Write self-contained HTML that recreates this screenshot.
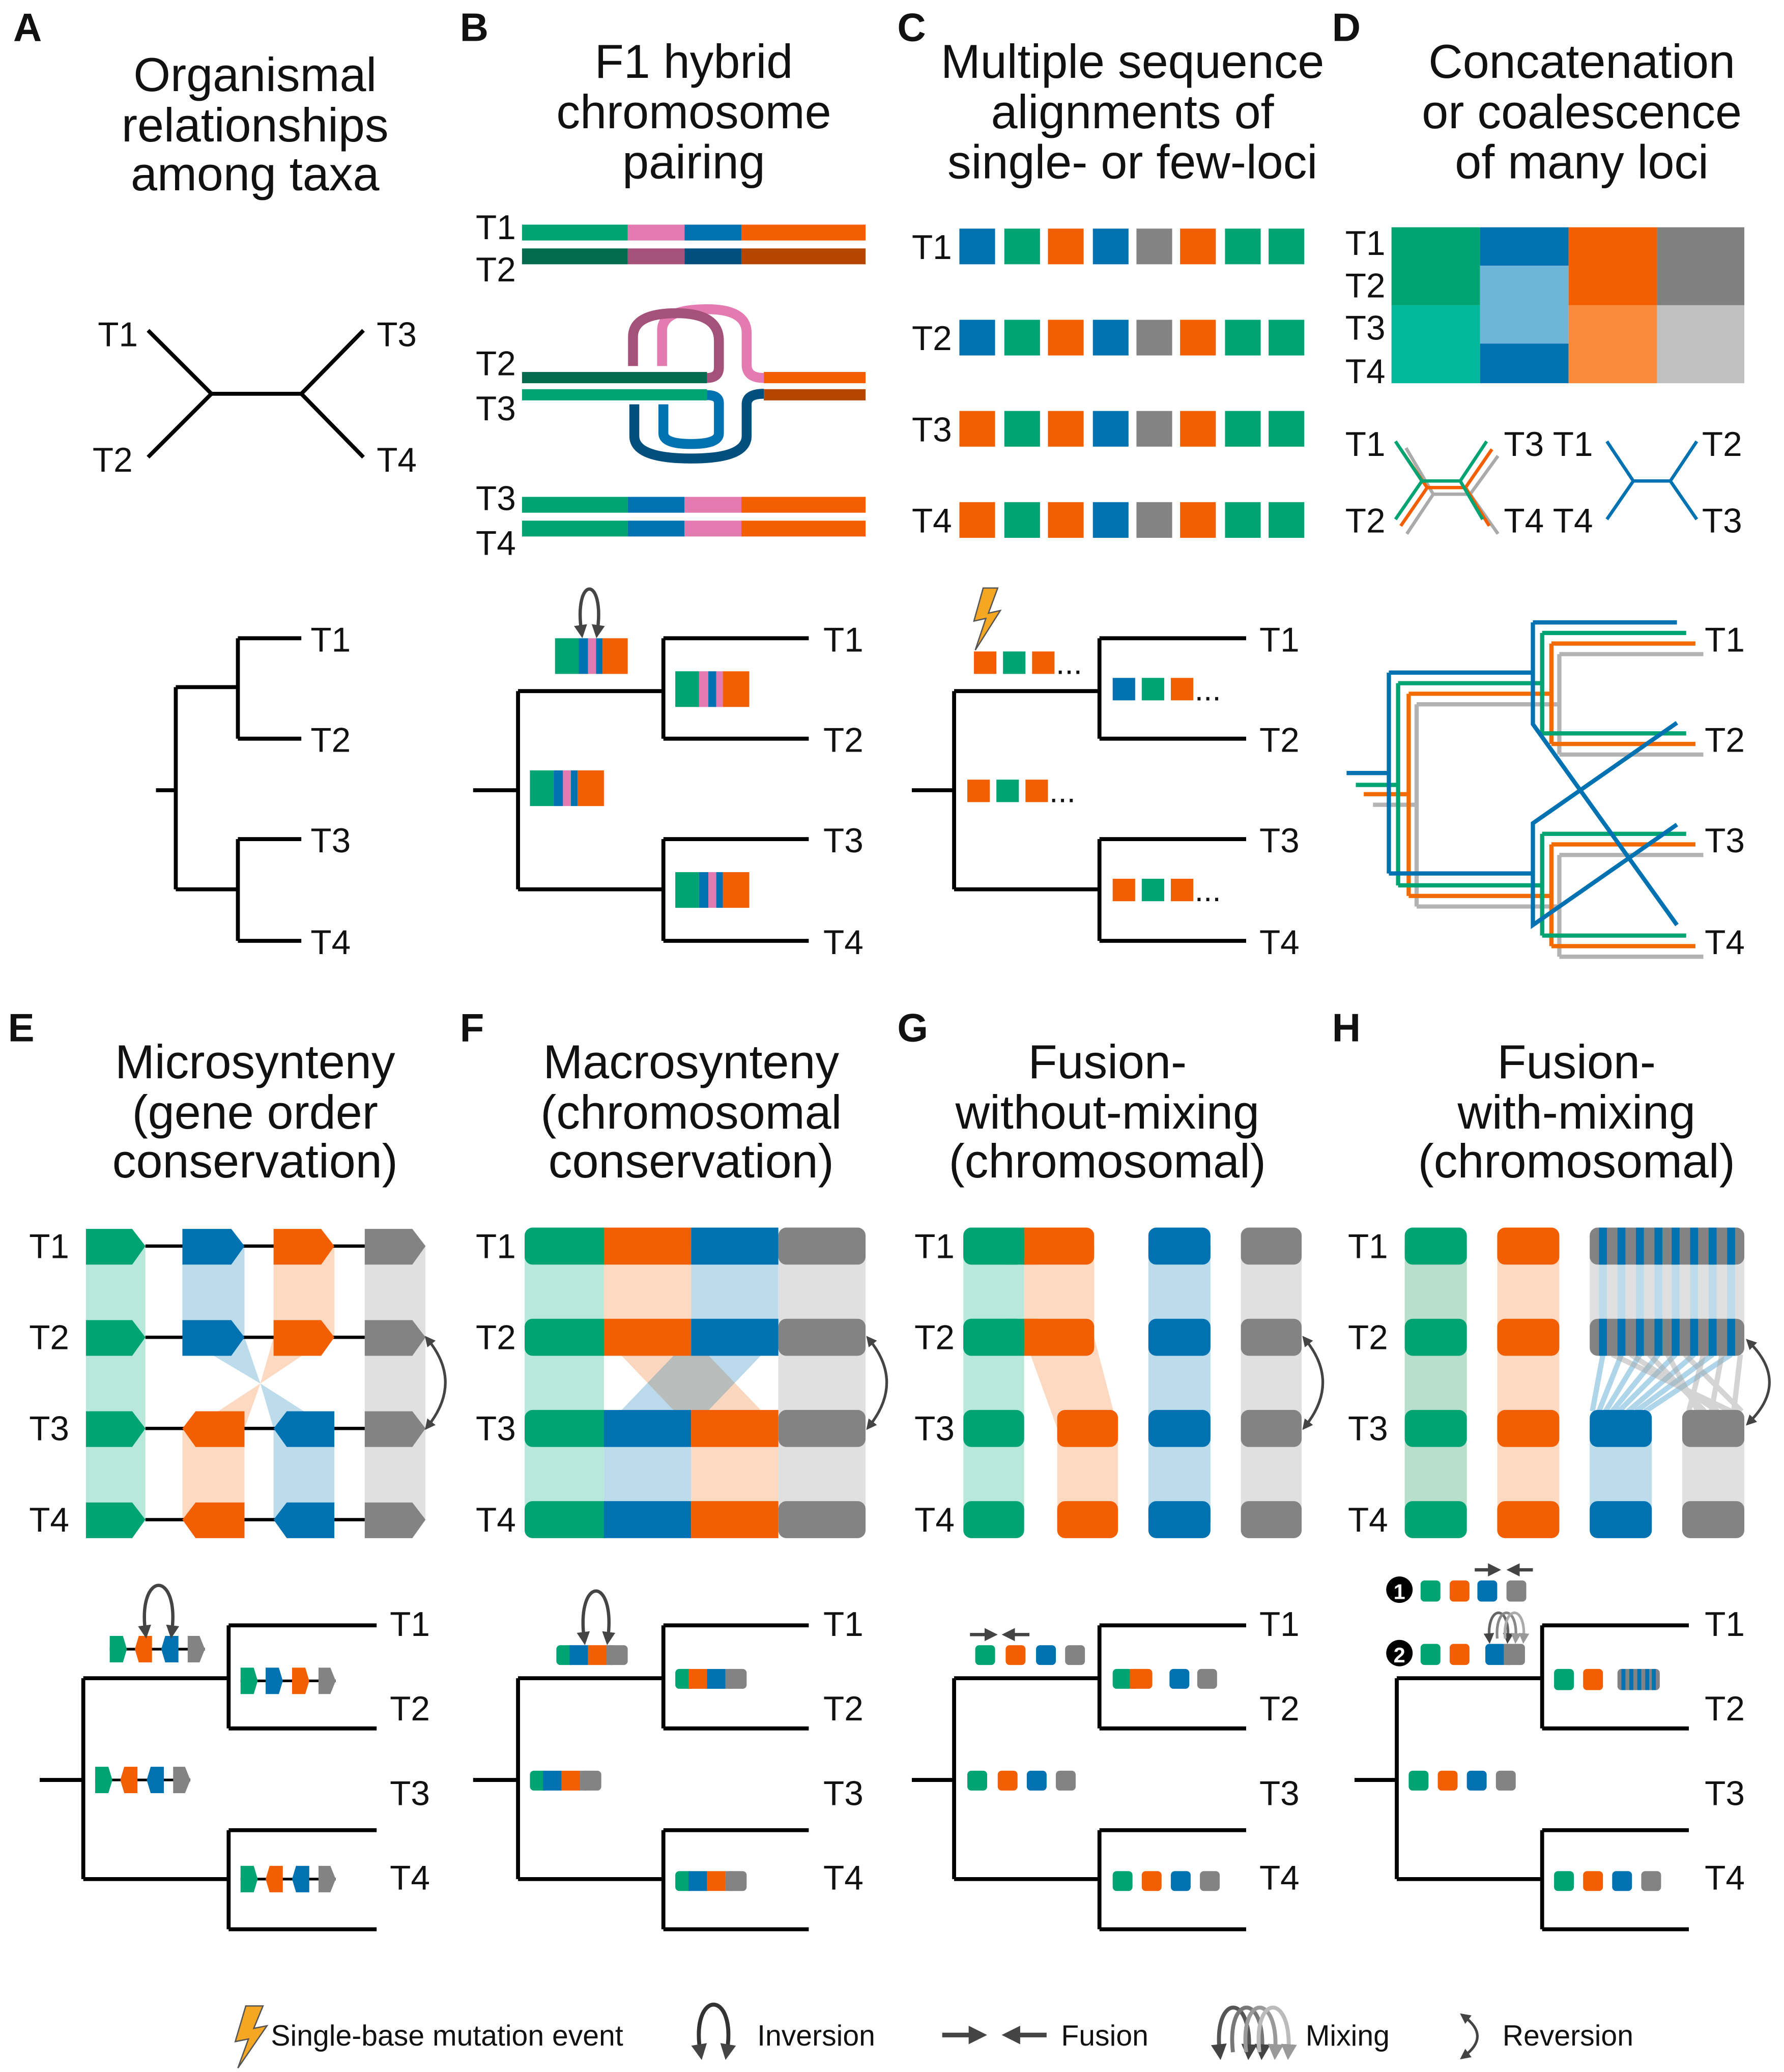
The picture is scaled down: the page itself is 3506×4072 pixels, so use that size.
<!DOCTYPE html>
<html><head><meta charset="utf-8"><style>html,body{margin:0;padding:0;background:#fff}svg{display:block}text{font-family:"Liberation Sans",Arial,sans-serif;fill:#111}</style></head><body>
<svg xmlns="http://www.w3.org/2000/svg" width="3506" height="4072" viewBox="0 0 1350 1568">
<defs>
<marker id="ah" viewBox="0 0 10 10" refX="5" refY="5" markerWidth="4" markerHeight="4" orient="auto-start-reverse"><path d="M0,0 L10,5 L0,10 z" fill="#444"/></marker>
<marker id="ahg" viewBox="0 0 10 10" refX="5" refY="5" markerWidth="4" markerHeight="4" orient="auto-start-reverse"><path d="M0,0 L10,5 L0,10 z" fill="#999"/></marker>
</defs>
<rect width="1350" height="1568" fill="#fff"/>
<!-- D heatmap -->
<rect x="1053" y="172" width="67" height="59" fill="#00a372"/><rect x="1053" y="231" width="67" height="59" fill="#00b89a"/>
<rect x="1120" y="172" width="67" height="29" fill="#0072b2"/><rect x="1120" y="201" width="67" height="59" fill="#6db6d9"/><rect x="1120" y="260" width="67" height="30" fill="#0072b2"/>
<rect x="1187" y="172" width="67" height="59" fill="#f35f00"/><rect x="1187" y="231" width="67" height="59" fill="#f88a3c"/>
<rect x="1254" y="172" width="66" height="59" fill="#808080"/><rect x="1254" y="231" width="66" height="59" fill="#c0c0c0"/>
<g font-weight="bold" font-size="30">
<text x="10" y="31">A</text><text x="348" y="31">B</text><text x="679" y="31">C</text><text x="1008" y="31">D</text>
<text x="6" y="788">E</text><text x="348" y="788">F</text><text x="679" y="788">G</text><text x="1008" y="788">H</text>
</g>
<g font-size="36" text-anchor="middle">
<text x="193" y="69">Organismal</text><text x="193" y="107">relationships</text><text x="193" y="144">among taxa</text>
<text x="525" y="59">F1 hybrid</text><text x="525" y="97">chromosome</text><text x="525" y="135">pairing</text>
<text x="857" y="59">Multiple sequence</text><text x="857" y="97">alignments of</text><text x="857" y="135">single- or few-loci</text>
<text x="1197" y="59">Concatenation</text><text x="1197" y="97">or coalescence</text><text x="1197" y="135">of many loci</text>
<text x="193" y="816">Microsynteny</text><text x="193" y="854">(gene order</text><text x="193" y="891">conservation)</text>
<text x="523" y="816">Macrosynteny</text><text x="523" y="854">(chromosomal</text><text x="523" y="891">conservation)</text>
<text x="838" y="816">Fusion-</text><text x="838" y="854">without-mixing</text><text x="838" y="891">(chromosomal)</text>
<text x="1193" y="816">Fusion-</text><text x="1193" y="854">with-mixing</text><text x="1193" y="891">(chromosomal)</text>
</g>
<g font-size="26">
<text x="74" y="262">T1</text><text x="70" y="357">T2</text><text x="285" y="262">T3</text><text x="285" y="357">T4</text>
<text x="235" y="493">T1</text><text x="235" y="569">T2</text><text x="235" y="645">T3</text><text x="235" y="722">T4</text>
<text x="623" y="493">T1</text><text x="623" y="569">T2</text><text x="623" y="645">T3</text><text x="623" y="722">T4</text>
<text x="953" y="493">T1</text><text x="953" y="569">T2</text><text x="953" y="645">T3</text><text x="953" y="722">T4</text>
<text x="1290" y="493">T1</text><text x="1290" y="569">T2</text><text x="1290" y="645">T3</text><text x="1290" y="722">T4</text>
<text x="360" y="181">T1</text><text x="360" y="213">T2</text><text x="360" y="284">T2</text><text x="360" y="318">T3</text><text x="360" y="386">T3</text><text x="360" y="420">T4</text>
<text x="690" y="196">T1</text><text x="690" y="265">T2</text><text x="690" y="334">T3</text><text x="690" y="403">T4</text>
<text x="1018" y="193">T1</text><text x="1018" y="225">T2</text><text x="1018" y="257">T3</text><text x="1018" y="290">T4</text>
<text x="1018" y="345">T1</text><text x="1138" y="345">T3 T1</text><text x="1288" y="345">T2</text>
<text x="1018" y="403">T2</text><text x="1138" y="403">T4 T4</text><text x="1288" y="403">T3</text>
<text x="22" y="952">T1</text><text x="22" y="1021">T2</text><text x="22" y="1090">T3</text><text x="22" y="1159">T4</text>
<text x="360" y="952">T1</text><text x="360" y="1021">T2</text><text x="360" y="1090">T3</text><text x="360" y="1159">T4</text>
<text x="692" y="952">T1</text><text x="692" y="1021">T2</text><text x="692" y="1090">T3</text><text x="692" y="1159">T4</text>
<text x="1020" y="952">T1</text><text x="1020" y="1021">T2</text><text x="1020" y="1090">T3</text><text x="1020" y="1159">T4</text>
<text x="295" y="1238">T1</text><text x="295" y="1302">T2</text><text x="295" y="1366">T3</text><text x="295" y="1430">T4</text>
<text x="623" y="1238">T1</text><text x="623" y="1302">T2</text><text x="623" y="1366">T3</text><text x="623" y="1430">T4</text>
<text x="953" y="1238">T1</text><text x="953" y="1302">T2</text><text x="953" y="1366">T3</text><text x="953" y="1430">T4</text>
<text x="1290" y="1238">T1</text><text x="1290" y="1302">T2</text><text x="1290" y="1366">T3</text><text x="1290" y="1430">T4</text>
</g>
<g stroke="#000" stroke-width="3" fill="none">
<path d="M160,298H228M160,298L112,250M160,298L112,346M228,298L275,250M228,298L275,346"/>
<path d="M118,598H133M133,520V673M133,520H180M133,673H180M180,483V559M180,483H228M180,559H228M180,635V712M180,635H228M180,712H228"/>
<path d="M358,598H392M392,523V673M392,523H502M392,673H502M502,483V559M502,483H612M502,559H612M502,635V712M502,635H612M502,712H612"/>
<path d="M690,598H722M722,523V673M722,523H832M722,673H832M832,483V559M832,483H943M832,559H943M832,635V712M832,635H943M832,712H943"/>
<path d="M30,1347H63M63,1270V1422M63,1270H173M63,1422H173M173,1230V1308M173,1230H285M173,1308H285M173,1385V1460M173,1385H285M173,1460H285"/>
<path d="M358,1347H392M392,1270V1422M392,1270H502M392,1422H502M502,1230V1308M502,1230H612M502,1308H612M502,1385V1460M502,1385H612M502,1460H612"/>
<path d="M690,1347H722M722,1270V1422M722,1270H832M722,1422H832M832,1230V1308M832,1230H943M832,1308H943M832,1385V1460M832,1385H943M832,1460H943"/>
<path d="M1025,1347H1057M1057,1270V1422M1057,1270H1167M1057,1422H1167M1167,1230V1308M1167,1230H1278M1167,1308H1278M1167,1385V1460M1167,1385H1278M1167,1460H1278"/>
</g>
<!-- B chromosomes -->
<rect x="395" y="170" width="80" height="12" fill="#00a372"/><rect x="475" y="170" width="43" height="12" fill="#e47bb0"/><rect x="518" y="170" width="43" height="12" fill="#0072b2"/><rect x="561" y="170" width="94" height="12" fill="#f35f00"/>
<rect x="395" y="188" width="80" height="12" fill="#006b4f"/><rect x="475" y="188" width="43" height="12" fill="#a4527a"/><rect x="518" y="188" width="43" height="12" fill="#004f7c"/><rect x="561" y="188" width="94" height="12" fill="#b44600"/>
<rect x="395" y="376" width="80" height="12" fill="#00a372"/><rect x="475" y="376" width="43" height="12" fill="#0072b2"/><rect x="518" y="376" width="43" height="12" fill="#e47bb0"/><rect x="561" y="376" width="94" height="12" fill="#f35f00"/>
<rect x="395" y="394" width="80" height="12" fill="#00a372"/><rect x="475" y="394" width="43" height="12" fill="#0072b2"/><rect x="518" y="394" width="43" height="12" fill="#e47bb0"/><rect x="561" y="394" width="94" height="12" fill="#f35f00"/>
<g fill="none" stroke-width="7.5">
<path d="M501,277V250Q501,234 535,234Q565,234 565,252V276Q565,286 578,286" stroke="#e47bb0"/>
<path d="M479,277V255Q479,237 512,237Q544,237 544,258V278Q544,286 535,286" stroke="#a4527a"/>
<path d="M480,306V330Q480,347 523,347Q565,347 565,330V306Q565,298 578,298" stroke="#004f7c"/>
<path d="M502,306V328Q502,336 523,336Q544,336 544,328V305Q544,299 535,299" stroke="#0072b2"/>
</g>
<rect x="395" y="281.5" width="140" height="8.5" fill="#006b4f"/><rect x="395" y="294.5" width="140" height="8.5" fill="#00a372"/>
<rect x="578" y="281.5" width="77" height="8.5" fill="#f35f00"/><rect x="578" y="294.5" width="77" height="8.5" fill="#b44600"/>
<!-- B tree blocks -->
<g>
<rect x="420" y="483" width="18" height="27" fill="#00a372"/><rect x="438" y="483" width="7" height="27" fill="#0072b2"/><rect x="445" y="483" width="6" height="27" fill="#e47bb0"/><rect x="451" y="483" width="5" height="27" fill="#0072b2"/><rect x="456" y="483" width="19" height="27" fill="#f35f00"/>
<rect x="511" y="508" width="18" height="27" fill="#00a372"/><rect x="529" y="508" width="7" height="27" fill="#e47bb0"/><rect x="536" y="508" width="6" height="27" fill="#0072b2"/><rect x="542" y="508" width="5" height="27" fill="#e47bb0"/><rect x="547" y="508" width="20" height="27" fill="#f35f00"/>
<rect x="401" y="583" width="18" height="27" fill="#00a372"/><rect x="419" y="583" width="7" height="27" fill="#0072b2"/><rect x="426" y="583" width="6" height="27" fill="#e47bb0"/><rect x="432" y="583" width="5" height="27" fill="#0072b2"/><rect x="437" y="583" width="20" height="27" fill="#f35f00"/>
<rect x="511" y="660" width="18" height="27" fill="#00a372"/><rect x="529" y="660" width="7" height="27" fill="#0072b2"/><rect x="536" y="660" width="6" height="27" fill="#e47bb0"/><rect x="542" y="660" width="5" height="27" fill="#0072b2"/><rect x="547" y="660" width="20" height="27" fill="#f35f00"/>
<path d="M440,478C434,435 458,435 452,478" fill="none" stroke="#444" stroke-width="2.5" marker-start="url(#ah)" marker-end="url(#ah)"/>
</g>
<!-- C squares -->
<g>
<g transform="translate(0,173)"><rect x="726" width="27" height="27" fill="#0072b2"/><rect x="760" width="27" height="27" fill="#00a372"/><rect x="793" width="27" height="27" fill="#f35f00"/><rect x="827" width="27" height="27" fill="#0072b2"/><rect x="860" width="27" height="27" fill="#838383"/><rect x="893" width="27" height="27" fill="#f35f00"/><rect x="927" width="27" height="27" fill="#00a372"/><rect x="960" width="27" height="27" fill="#00a372"/></g>
<g transform="translate(0,242)"><rect x="726" width="27" height="27" fill="#0072b2"/><rect x="760" width="27" height="27" fill="#00a372"/><rect x="793" width="27" height="27" fill="#f35f00"/><rect x="827" width="27" height="27" fill="#0072b2"/><rect x="860" width="27" height="27" fill="#838383"/><rect x="893" width="27" height="27" fill="#f35f00"/><rect x="927" width="27" height="27" fill="#00a372"/><rect x="960" width="27" height="27" fill="#00a372"/></g>
<g transform="translate(0,311)"><rect x="726" width="27" height="27" fill="#f35f00"/><rect x="760" width="27" height="27" fill="#00a372"/><rect x="793" width="27" height="27" fill="#f35f00"/><rect x="827" width="27" height="27" fill="#0072b2"/><rect x="860" width="27" height="27" fill="#838383"/><rect x="893" width="27" height="27" fill="#f35f00"/><rect x="927" width="27" height="27" fill="#00a372"/><rect x="960" width="27" height="27" fill="#00a372"/></g>
<g transform="translate(0,380)"><rect x="726" width="27" height="27" fill="#f35f00"/><rect x="760" width="27" height="27" fill="#00a372"/><rect x="793" width="27" height="27" fill="#f35f00"/><rect x="827" width="27" height="27" fill="#0072b2"/><rect x="860" width="27" height="27" fill="#838383"/><rect x="893" width="27" height="27" fill="#f35f00"/><rect x="927" width="27" height="27" fill="#00a372"/><rect x="960" width="27" height="27" fill="#00a372"/></g>
</g>
<g font-size="24">
<path d="M744,445L737,470L746,468L738,492L757,462L748,464L755,445Z" fill="#f5a623" stroke="#555" stroke-width="1"/>
<rect x="737" y="493" width="17" height="17" fill="#f35f00"/><rect x="759" y="493" width="17" height="17" fill="#00a372"/><rect x="781" y="493" width="17" height="17" fill="#f35f00"/><text x="799" y="510">...</text>
<rect x="842" y="513" width="17" height="17" fill="#0072b2"/><rect x="864" y="513" width="17" height="17" fill="#00a372"/><rect x="886" y="513" width="17" height="17" fill="#f35f00"/><text x="904" y="530">...</text>
<rect x="732" y="590" width="17" height="17" fill="#f35f00"/><rect x="754" y="590" width="17" height="17" fill="#00a372"/><rect x="776" y="590" width="17" height="17" fill="#f35f00"/><text x="794" y="607">...</text>
<rect x="842" y="665" width="17" height="17" fill="#f35f00"/><rect x="864" y="665" width="17" height="17" fill="#00a372"/><rect x="886" y="665" width="17" height="17" fill="#f35f00"/><text x="904" y="682">...</text>
</g>
<!-- D small trees -->
<g fill="none" stroke-width="2.5">
<path d="M1064,339L1084.6,374H1112.5L1133.6,345M1084.6,374L1064.6,404M1112.5,374L1133.6,404" stroke="#aaa"/>
<path d="M1060,340L1080,369H1109L1129,340M1080,369L1060,398M1109,369L1127,398" stroke="#f35f00"/>
<path d="M1056,334L1076,364H1105L1125,334M1076,364L1056,393M1105,364L1122,393" stroke="#00a372"/>
<path d="M1216,334L1236,364H1264L1284,334M1236,364L1216,393M1264,364L1284,393" stroke="#0072b2"/>
</g>
<!-- D big tree -->
<g fill="none" stroke-width="3.2">
<path d="M1039,609H1072M1072,533V686M1072,533H1180M1072,686H1180M1180,495V571M1180,495H1289M1180,571H1289M1180,647V724M1180,647H1289M1180,724H1289" stroke="#b3b3b3"/>
<path d="M1032,601H1066M1066,525V678M1066,525H1174M1066,678H1174M1174,487V563M1174,487H1283M1174,563H1283M1174,639V716M1174,639H1283M1174,716H1283" stroke="#f36a00"/>
<path d="M1026,594H1058M1058,517V670M1058,517H1167M1058,670H1167M1167,479V555M1167,479H1276M1167,555H1276M1167,631V708M1167,631H1276M1167,708H1276" stroke="#00a372"/>
<path d="M1019,585H1051M1051,509V661M1051,509H1160M1051,661H1160M1160,471V548L1269,700M1160,471H1269M1269,547L1160,623V700L1269,624" stroke="#0072b2"/>
</g>
<!-- E -->
<g>
<rect x="65" y="943" width="45" height="207" fill="#b8e8da"/>
<rect x="138" y="943" width="47" height="69" fill="#bcdcec"/><rect x="207" y="943" width="46" height="69" fill="#fdd9c1"/>
<polygon points="160,1025 185,1012 197,1047" fill="#bcdcec"/><polygon points="197,1047 207,1081 230,1068" fill="#bcdcec"/>
<polygon points="207,1012 230,1025 197,1047" fill="#fdd9c1"/><polygon points="197,1047 165,1068 185,1081" fill="#fdd9c1"/>
<rect x="138" y="1081" width="47" height="69" fill="#fdd9c1"/><rect x="207" y="1081" width="46" height="69" fill="#bcdcec"/>
<rect x="276" y="943" width="46" height="207" fill="#e0e0e0"/>
<g stroke="#000" stroke-width="2.5"><path d="M110,943H276M110,1012H276M110,1081H276M110,1150H276"/></g>
<g id="erowR">
<polygon points="65,930 100,930 110,943 100,957 65,957" fill="#00a372"/>
<polygon points="276,930 312,930 322,943 312,957 276,957" fill="#838383"/>
</g>
<use href="#erowR" y="69"/><use href="#erowR" y="138"/><use href="#erowR" y="207"/>
<polygon points="138,930 175,930 185,943 175,957 138,957" fill="#0072b2"/><polygon points="207,930 243,930 253,943 243,957 207,957" fill="#f35f00"/>
<polygon points="138,999 175,999 185,1012 175,1026 138,1026" fill="#0072b2"/><polygon points="207,999 243,999 253,1012 243,1026 207,1026" fill="#f35f00"/>
<polygon points="138,1081 148,1068 185,1068 185,1095 148,1095" fill="#f35f00"/><polygon points="207,1081 217,1068 253,1068 253,1095 217,1095" fill="#0072b2"/>
<polygon points="138,1150 148,1137 185,1137 185,1164 148,1164" fill="#f35f00"/><polygon points="207,1150 217,1137 253,1137 253,1164 217,1164" fill="#0072b2"/>
<path d="M324,1014Q350,1046 324,1079" fill="none" stroke="#444" stroke-width="2" marker-start="url(#ah)" marker-end="url(#ah)"/>
</g>
<!-- F -->
<g>
<rect x="397" y="943" width="60" height="207" fill="#b8e8da"/>
<rect x="457" y="943" width="66" height="69" fill="#fdd9c1"/><rect x="523" y="943" width="66" height="69" fill="#bcdcec"/>
<polygon points="457,1012 523,1012 589,1081 523,1081" fill="#f35f00" opacity="0.25"/>
<polygon points="523,1012 589,1012 523,1081 457,1081" fill="#0072b2" opacity="0.27"/>
<rect x="457" y="1081" width="66" height="69" fill="#bcdcec"/><rect x="523" y="1081" width="66" height="69" fill="#fdd9c1"/>
<rect x="589" y="943" width="66" height="207" fill="#e0e0e0"/>
<g id="frow"><rect x="397" y="929" width="66" height="28" rx="6" fill="#00a372"/><rect x="589" y="929" width="66" height="28" rx="6" fill="#838383"/></g>
<use href="#frow" y="69"/><use href="#frow" y="138"/><use href="#frow" y="207"/>
<rect x="457" y="929" width="66" height="28" fill="#f35f00"/><rect x="523" y="929" width="66" height="28" fill="#0072b2"/>
<rect x="457" y="998" width="66" height="28" fill="#f35f00"/><rect x="523" y="998" width="66" height="28" fill="#0072b2"/>
<rect x="457" y="1067" width="66" height="28" fill="#0072b2"/><rect x="523" y="1067" width="66" height="28" fill="#f35f00"/>
<rect x="457" y="1136" width="66" height="28" fill="#0072b2"/><rect x="523" y="1136" width="66" height="28" fill="#f35f00"/>
<path d="M658,1014Q684,1046 658,1079" fill="none" stroke="#444" stroke-width="2" marker-start="url(#ah)" marker-end="url(#ah)"/>
</g>
<!-- G -->
<g>
<rect x="729" y="943" width="46" height="207" fill="#b8e8da"/>
<rect x="775" y="943" width="53" height="69" fill="#fdd9c1"/><polygon points="775,1012 828,1012 846,1081 800,1081" fill="#fdd9c1"/><rect x="800" y="1081" width="46" height="69" fill="#fdd9c1"/>
<rect x="869" y="943" width="47" height="207" fill="#bcdcec"/><rect x="939" y="943" width="46" height="207" fill="#e0e0e0"/>
<g id="grow"><rect x="729" y="929" width="46" height="28" rx="6" fill="#00a372"/><rect x="869" y="929" width="47" height="28" rx="6" fill="#0072b2"/><rect x="939" y="929" width="46" height="28" rx="6" fill="#838383"/></g>
<use href="#grow" y="69"/><use href="#grow" y="138"/><use href="#grow" y="207"/>
<rect x="769" y="929" width="59" height="28" rx="6" fill="#f35f00"/><rect x="775" y="929" width="10" height="28" fill="#f35f00"/>
<rect x="769" y="998" width="59" height="28" rx="6" fill="#f35f00"/><rect x="775" y="998" width="10" height="28" fill="#f35f00"/>
<rect x="729" y="929" width="46" height="28" rx="6" fill="#00a372"/><rect x="760" y="929" width="15" height="28" fill="#00a372"/>
<rect x="729" y="998" width="46" height="28" rx="6" fill="#00a372"/><rect x="760" y="998" width="15" height="28" fill="#00a372"/>
<rect x="800" y="1067" width="46" height="28" rx="6" fill="#f35f00"/><rect x="800" y="1136" width="46" height="28" rx="6" fill="#f35f00"/>
<path d="M988,1014Q1014,1046 988,1079" fill="none" stroke="#444" stroke-width="2" marker-start="url(#ah)" marker-end="url(#ah)"/>
</g>
<!-- H -->
<g>
<rect x="1063" y="943" width="47" height="207" fill="#b8dfcc"/><rect x="1133" y="943" width="47" height="207" fill="#fdd9c1"/>
<rect x="1203" y="943" width="117" height="69" fill="#e0e0e0"/>
<g fill="#bcdcec"><rect x="1210" y="943" width="6" height="69"/><rect x="1224" y="943" width="6" height="69"/><rect x="1238" y="943" width="6" height="69"/><rect x="1252" y="943" width="6" height="69"/><rect x="1265" y="943" width="6" height="69"/><rect x="1279" y="943" width="6" height="69"/><rect x="1293" y="943" width="6" height="69"/><rect x="1307" y="943" width="6" height="69"/></g>
<g stroke="#8cc4e2" stroke-width="4" opacity="0.7"><path d="M1213,1025L1205,1068M1227,1025L1210,1068M1241,1025L1215,1068M1255,1025L1220,1068M1268,1025L1225,1068M1282,1025L1232,1068M1296,1025L1238,1068M1310,1025L1245,1068"/></g>
<g stroke="#aaa" stroke-width="4" opacity="0.5"><path d="M1220,1025L1310,1068M1234,1025L1300,1068M1248,1025L1290,1068M1262,1025L1285,1068M1275,1025L1318,1068M1289,1025L1278,1068M1303,1025L1295,1068M1317,1025L1312,1068"/></g>
<rect x="1203" y="1081" width="47" height="69" fill="#bcdcec"/><rect x="1273" y="1081" width="47" height="69" fill="#e0e0e0"/>
<g id="hrow"><rect x="1063" y="929" width="47" height="28" rx="6" fill="#00a372"/><rect x="1133" y="929" width="47" height="28" rx="6" fill="#f35f00"/></g>
<use href="#hrow" y="69"/><use href="#hrow" y="138"/><use href="#hrow" y="207"/>
<g id="hstr"><rect x="1203" y="929" width="117" height="28" rx="6" fill="#838383"/>
<g fill="#0072b2"><rect x="1210" y="929" width="6" height="28"/><rect x="1224" y="929" width="6" height="28"/><rect x="1238" y="929" width="6" height="28"/><rect x="1252" y="929" width="6" height="28"/><rect x="1265" y="929" width="6" height="28"/><rect x="1279" y="929" width="6" height="28"/><rect x="1293" y="929" width="6" height="28"/><rect x="1307" y="929" width="6" height="28"/></g></g>
<use href="#hstr" y="69"/>
<rect x="1203" y="1067" width="47" height="28" rx="6" fill="#0072b2"/><rect x="1273" y="1067" width="47" height="28" rx="6" fill="#838383"/>
<rect x="1203" y="1136" width="47" height="28" rx="6" fill="#0072b2"/><rect x="1273" y="1136" width="47" height="28" rx="6" fill="#838383"/>
<path d="M1324,1016Q1354,1046 1324,1076" fill="none" stroke="#444" stroke-width="2" marker-start="url(#ah)" marker-end="url(#ah)"/>
</g>
<!-- E tree blocks -->
<g id="egen">
<line x1="83" y1="1248" x2="155" y2="1248" stroke="#000" stroke-width="2"/>
<polygon points="83,1238 93,1238 96,1248 93,1258 83,1258" fill="#00a372"/>
<polygon points="102,1248 105,1238 115,1238 115,1258 105,1258" fill="#f35f00"/>
<polygon points="122,1248 125,1238 135,1238 135,1258 125,1258" fill="#0072b2"/>
<polygon points="142,1238 151,1238 155,1248 151,1258 142,1258" fill="#838383"/>
</g>
<g transform="translate(99,24)">
<line x1="83" y1="1248" x2="155" y2="1248" stroke="#000" stroke-width="2"/>
<polygon points="83,1238 93,1238 96,1248 93,1258 83,1258" fill="#00a372"/>
<polygon points="102,1238 112,1238 115,1248 112,1258 102,1258" fill="#0072b2"/>
<polygon points="122,1238 132,1238 135,1248 132,1258 122,1258" fill="#f35f00"/>
<polygon points="142,1238 151,1238 155,1248 151,1258 142,1258" fill="#838383"/>
</g>
<g transform="translate(-11,99)">
<line x1="83" y1="1248" x2="155" y2="1248" stroke="#000" stroke-width="2"/>
<polygon points="83,1238 93,1238 96,1248 93,1258 83,1258" fill="#00a372"/>
<polygon points="102,1248 105,1238 115,1238 115,1258 105,1258" fill="#f35f00"/>
<polygon points="122,1248 125,1238 135,1238 135,1258 125,1258" fill="#0072b2"/>
<polygon points="142,1238 151,1238 155,1248 151,1258 142,1258" fill="#838383"/>
</g>
<use href="#egen" transform="translate(99,174)"/>
<path d="M110,1235C104,1188 136,1188 130,1235" fill="none" stroke="#444" stroke-width="2.5" marker-start="url(#ah)" marker-end="url(#ah)"/>
<!-- F tree blocks -->
<g id="fblk">
<rect x="421" y="1245" width="14" height="15" rx="3" fill="#00a372"/><rect x="431" y="1245" width="14" height="15" fill="#0072b2"/><rect x="445" y="1245" width="14" height="15" fill="#f35f00"/><rect x="459" y="1245" width="16" height="15" rx="3" fill="#838383"/><rect x="459" y="1245" width="5" height="15" fill="#838383"/>
</g>
<g transform="translate(90,18)">
<rect x="421" y="1245" width="14" height="15" rx="3" fill="#00a372"/><rect x="431" y="1245" width="14" height="15" fill="#f35f00"/><rect x="445" y="1245" width="14" height="15" fill="#0072b2"/><rect x="459" y="1245" width="16" height="15" rx="3" fill="#838383"/><rect x="459" y="1245" width="5" height="15" fill="#838383"/>
</g>
<g transform="translate(-20,95)">
<rect x="421" y="1245" width="14" height="15" rx="3" fill="#00a372"/><rect x="431" y="1245" width="14" height="15" fill="#0072b2"/><rect x="445" y="1245" width="14" height="15" fill="#f35f00"/><rect x="459" y="1245" width="16" height="15" rx="3" fill="#838383"/><rect x="459" y="1245" width="5" height="15" fill="#838383"/>
</g>
<use href="#fblk" transform="translate(90,171)"/>
<path d="M442,1240C436,1192 466,1192 460,1240" fill="none" stroke="#444" stroke-width="2.5" marker-start="url(#ah)" marker-end="url(#ah)"/>
<!-- G tree blocks -->
<g>
<rect x="738" y="1245" width="15" height="15" rx="3" fill="#00a372"/><rect x="761" y="1245" width="15" height="15" rx="3" fill="#f35f00"/><rect x="784" y="1245" width="15" height="15" rx="3" fill="#0072b2"/><rect x="806" y="1245" width="15" height="15" rx="3" fill="#838383"/>
<line x1="734" y1="1237" x2="750" y2="1237" stroke="#444" stroke-width="2.5" marker-end="url(#ah)"/>
<line x1="779" y1="1237" x2="763" y2="1237" stroke="#444" stroke-width="2.5" marker-end="url(#ah)"/>
<rect x="842" y="1263" width="15" height="15" rx="3" fill="#00a372"/><rect x="855" y="1263" width="17" height="15" rx="3" fill="#f35f00"/><rect x="855" y="1263" width="4" height="15" fill="#f35f00"/><rect x="885" y="1263" width="15" height="15" rx="3" fill="#0072b2"/><rect x="906" y="1263" width="15" height="15" rx="3" fill="#838383"/>
<rect x="732" y="1340" width="15" height="15" rx="3" fill="#00a372"/><rect x="755" y="1340" width="15" height="15" rx="3" fill="#f35f00"/><rect x="777" y="1340" width="15" height="15" rx="3" fill="#0072b2"/><rect x="799" y="1340" width="15" height="15" rx="3" fill="#838383"/>
<rect x="842" y="1416" width="15" height="15" rx="3" fill="#00a372"/><rect x="864" y="1416" width="15" height="15" rx="3" fill="#f35f00"/><rect x="886" y="1416" width="15" height="15" rx="3" fill="#0072b2"/><rect x="908" y="1416" width="15" height="15" rx="3" fill="#838383"/>
</g>
<!-- H tree blocks -->
<g>
<circle cx="1059" cy="1203" r="10" fill="#000"/><text x="1059" y="1210" font-size="16" font-weight="bold" text-anchor="middle" style="fill:#fff">1</text>
<rect x="1075" y="1196" width="15" height="16" rx="3" fill="#00a372"/><rect x="1097" y="1196" width="15" height="16" rx="3" fill="#f35f00"/><rect x="1118" y="1196" width="15" height="16" rx="3" fill="#0072b2"/><rect x="1140" y="1196" width="15" height="16" rx="3" fill="#838383"/>
<line x1="1116" y1="1188" x2="1131" y2="1188" stroke="#444" stroke-width="2.5" marker-end="url(#ah)"/>
<line x1="1160" y1="1188" x2="1145" y2="1188" stroke="#444" stroke-width="2.5" marker-end="url(#ah)"/>
<circle cx="1059" cy="1251" r="10" fill="#000"/><text x="1059" y="1258" font-size="16" font-weight="bold" text-anchor="middle" style="fill:#fff">2</text>
<rect x="1075" y="1244" width="15" height="16" rx="3" fill="#00a372"/><rect x="1097" y="1244" width="15" height="16" rx="3" fill="#f35f00"/><rect x="1124" y="1244" width="16" height="16" rx="3" fill="#0072b2"/><rect x="1138" y="1244" width="16" height="16" rx="3" fill="#838383"/><rect x="1138" y="1244" width="5" height="16" fill="#838383"/>
<g fill="none" stroke-width="2">
<path d="M1127,1240C1125,1214 1143,1214 1141,1240" stroke="#666" marker-start="url(#ah)" marker-end="url(#ah)"/>
<path d="M1133,1240C1131,1214 1149,1214 1147,1240" stroke="#888" marker-end="url(#ahg)"/>
<path d="M1139,1240C1137,1214 1155,1214 1153,1240" stroke="#aaa" marker-end="url(#ahg)"/>
</g>
<rect x="1176" y="1263" width="15" height="16" rx="3" fill="#00a372"/><rect x="1198" y="1263" width="15" height="16" rx="3" fill="#f35f00"/>
<rect x="1224" y="1263" width="32" height="16" rx="3" fill="#838383"/>
<g fill="#0072b2"><rect x="1227" y="1263" width="3" height="16"/><rect x="1233" y="1263" width="3" height="16"/><rect x="1239" y="1263" width="3" height="16"/><rect x="1245" y="1263" width="3" height="16"/><rect x="1250" y="1263" width="3" height="16"/></g>
<rect x="1066" y="1340" width="15" height="15" rx="3" fill="#00a372"/><rect x="1088" y="1340" width="15" height="15" rx="3" fill="#f35f00"/><rect x="1110" y="1340" width="15" height="15" rx="3" fill="#0072b2"/><rect x="1132" y="1340" width="15" height="15" rx="3" fill="#838383"/>
<rect x="1176" y="1416" width="15" height="15" rx="3" fill="#00a372"/><rect x="1198" y="1416" width="15" height="15" rx="3" fill="#f35f00"/><rect x="1220" y="1416" width="15" height="15" rx="3" fill="#0072b2"/><rect x="1242" y="1416" width="15" height="15" rx="3" fill="#838383"/>
</g>
<!-- legend -->
<g font-size="22">
<path d="M186,1518L178,1545L188,1543L180,1565L202,1533L192,1535L199,1518Z" fill="#f5a623" stroke="#555" stroke-width="1"/>
<text x="205" y="1548">Single-base mutation event</text>
<path d="M530,1553C522,1505 558,1505 550,1553" fill="none" stroke="#333" stroke-width="3" marker-start="url(#ah)" marker-end="url(#ah)"/>
<text x="573" y="1548">Inversion</text>
<line x1="713" y1="1540" x2="740" y2="1540" stroke="#444" stroke-width="3.5" marker-end="url(#ah)"/>
<line x1="792" y1="1540" x2="765" y2="1540" stroke="#444" stroke-width="3.5" marker-end="url(#ah)"/>
<text x="803" y="1548">Fusion</text>
<g fill="none" stroke-width="3">
<path d="M923,1553C918,1508 948,1508 945,1553" stroke="#555" marker-start="url(#ah)" marker-end="url(#ah)"/>
<path d="M933,1553C928,1508 958,1508 955,1553" stroke="#777" marker-end="url(#ah)"/>
<path d="M943,1553C938,1508 968,1508 965,1553" stroke="#999" marker-end="url(#ahg)"/>
<path d="M953,1553C948,1508 978,1508 975,1553" stroke="#bbb" marker-end="url(#ahg)"/>
</g>
<text x="988" y="1548">Mixing</text>
<path d="M1108,1526Q1128,1541 1108,1556" fill="none" stroke="#444" stroke-width="2" marker-start="url(#ah)" marker-end="url(#ah)"/>
<text x="1137" y="1548">Reversion</text>
</g>
</svg>
</body></html>
